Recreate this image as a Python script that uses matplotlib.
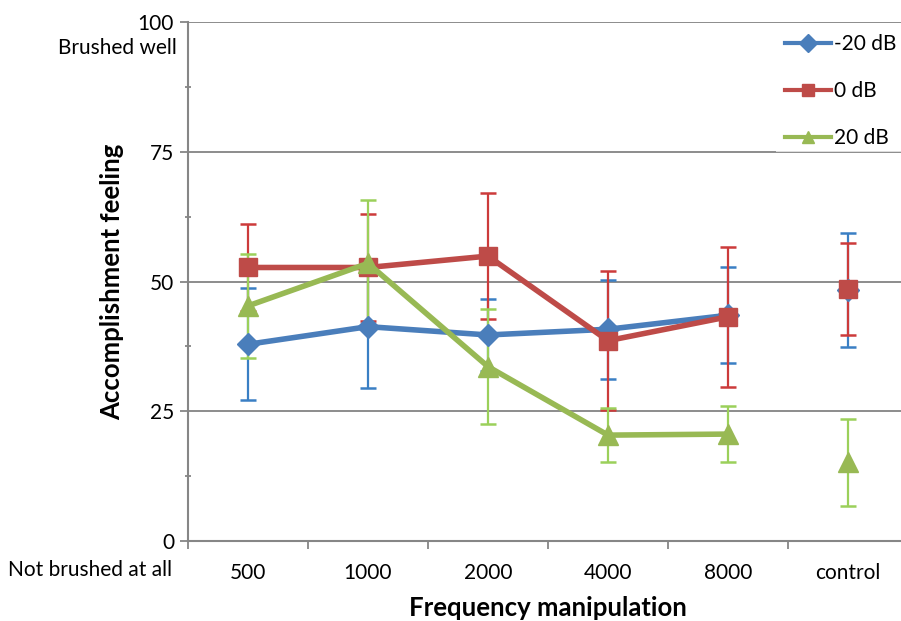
import numpy as np
import matplotlib
matplotlib.use("Agg")
import matplotlib.pyplot as plt
from matplotlib.ticker import MultipleLocator
from matplotlib.patches import Rectangle

plt.rcParams['font.family'] = ['Lato', 'DejaVu Sans']

categories = ["500", "1000", "2000", "4000", "8000", "control"]
series_names = ["-20 dB", "0 dB", "20 dB"]
means = {
    "-20 dB": [37.9, 41.3, 39.7, 40.8, 43.5, 48.3],
    "0 dB":   [52.7, 52.7, 54.9, 38.6, 43.2, 48.6],
    "20 dB":  [45.3, 53.5, 33.6, 20.4, 20.6, 15.2],
}
errors = {
    "-20 dB": [10.8, 11.8, 6.9, 9.5, 9.2, 11.0],
    "0 dB":   [8.4, 10.3, 12.2, 13.4, 13.5, 8.9],
    "20 dB":  [10.0, 12.2, 11.1, 5.2, 5.4, 8.4],
}

line_colors = {"-20 dB": "#4A7EBB", "0 dB": "#BE4B48", "20 dB": "#98B954"}
err_colors = {"-20 dB": "#3A7FC4", "0 dB": "#CC3B3B", "20 dB": "#9BD05A"}
markers = {"-20 dB": ("D", 11), "0 dB": ("s", 13), "20 dB": ("^", 14)}

fig = plt.figure(figsize=(9.01, 6.21), dpi=100)
ax = fig.add_axes([188/901, 1-541/621, 720/901, (541-22)/621])

x = np.arange(len(categories))
n_line = 5
for name in series_names:
    m = np.array(means[name])
    e = np.array(errors[name])
    ax.errorbar(x, m, yerr=e, fmt="none", ecolor=err_colors[name],
                elinewidth=1.6, capsize=6, capthick=1.8, zorder=3)
for name in series_names:
    m = np.array(means[name])
    mk, ms = markers[name]
    ax.plot(x[:n_line], m[:n_line], color=line_colors[name], lw=4.0,
            marker=mk, ms=ms, zorder=4, label=name)
    ax.plot(x[n_line:], m[n_line:], color=line_colors[name], lw=0,
            marker=mk, ms=ms, zorder=4)

ax.set_xlim(-0.5, len(categories) - 0.5)
ax.set_ylim(0, 100)
ax.set_yticks([0, 25, 50, 75, 100])
ax.yaxis.set_minor_locator(MultipleLocator(12.5))
ax.grid(axis="y", which="major", color="#8C8C8C", lw=1.4, zorder=0)
ax.set_axisbelow(True)

ax.set_xticks(x)
ax.set_xticklabels(categories, fontsize=15)
ax.set_xticks(np.arange(-0.5, len(categories)), minor=True)
ax.tick_params(axis="x", which="major", length=0, pad=16)
ax.tick_params(axis="x", which="minor", length=6, width=1.3, color="#868686", direction="out")
ax.tick_params(axis="y", which="major", length=6, width=1.3, color="#868686", labelsize=15, pad=4)
ax.tick_params(axis="y", which="minor", length=4, width=1.3, color="#868686", direction="inout")

for s in ["top", "right"]:
    ax.spines[s].set_visible(False)
for s in ["left", "bottom"]:
    ax.spines[s].set_color("#868686")
    ax.spines[s].set_linewidth(1.5)

ax.set_ylabel("Accomplishment feeling", fontsize=18.5, fontweight="bold", labelpad=10)
ax.set_xlabel("Frequency manipulation", fontsize=18.5, fontweight="bold", labelpad=9)

fig.text(177/901, 1-48/621, "Brushed well", ha="right", va="center", fontsize=15)
fig.text(8/901, 1-570/621, "Not brushed at all", ha="left", va="center", fontsize=15)

# light panel behind legend (lightens gridlines there)
ax.add_patch(Rectangle((776/901, 1-152/621), 130/901, 129/621, transform=fig.transFigure,
                       facecolor="white", edgecolor="none", alpha=0.7, zorder=2, clip_on=False))

leg = ax.legend(loc="upper left", bbox_to_anchor=(785/901, 1-34/621),
                bbox_transform=fig.transFigure, frameon=False, fontsize=15,
                handlelength=2.2, handletextpad=0.15, labelspacing=1.3,
                borderaxespad=0.0, borderpad=0.0)
for h in leg.legend_handles:
    h.set_markersize(9)
    h.set_linewidth(3)

fig.savefig("out.png", dpi=100)
